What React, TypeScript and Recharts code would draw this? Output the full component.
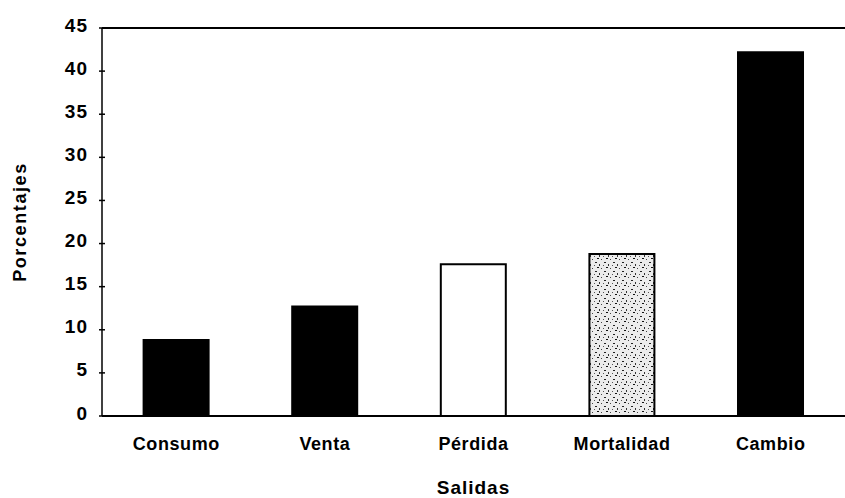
import { BarChart, Bar, XAxis, YAxis, Cell, ReferenceLine, Label } from 'recharts';

const categories = ['Consumo', 'Venta', 'Pérdida', 'Mortalidad', 'Cambio'];
const percentages = [8.8, 12.7, 17.6, 18.8, 42.2];
const yTicks = [0, 5, 10, 15, 20, 25, 30, 35, 40, 45];

const data = categories.map((name, i) => ({ name, value: percentages[i] }));

const FONT = '"Liberation Sans", Arial, sans-serif';
const barFills = ['#000', '#000', '#fff', 'url(#speckle)', '#000'];

function YTick(props: any) {
  const { x, y, payload } = props;
  const axisX = x + 14;
  return (
    <g>
      <line x1={axisX - 3} x2={axisX + 3} y1={y} y2={y} stroke="#000" strokeWidth={1.5} />
      <text x={x} y={y - 3} textAnchor="end" dominantBaseline="central" fontFamily={FONT} fontSize={19} fontWeight="bold" letterSpacing={1} fill="#000">
        {payload.value}
      </text>
    </g>
  );
}

function XTick(props: any) {
  const { x, y, payload } = props;
  return (
    <text x={x} y={y} dy="0.71em" textAnchor="middle" fontFamily={FONT} fontSize={18} fontWeight="bold" letterSpacing={0.6} fill="#000">
      {payload.value}
    </text>
  );
}

function YLabel(props: any) {
  const vb = props.viewBox;
  const cx = 20;
  const cy = vb.y + vb.height / 2;
  return (
    <text x={cx} y={cy} transform={`rotate(-90 ${cx} ${cy})`} textAnchor="middle" dominantBaseline="central" fontFamily={FONT} fontSize={18} fontWeight="bold" letterSpacing={1.6} fill="#000">
      Porcentajes
    </text>
  );
}

export default function App() {
  return (
    <div style={{ position: 'absolute', left: 0, top: 0, width: 845, height: 498, background: '#fff' }}>
      <BarChart width={845} height={498} data={data} margin={{ top: 28, right: 0, bottom: 0, left: 0 }} barCategoryGap="28%">
        <defs>
          <pattern id="speckle" width="9" height="9" patternUnits="userSpaceOnUse">
            <rect width="9" height="9" fill="#ececec" />
            <rect x="1" y="1" width="2" height="1" fill="#222" />
            <rect x="5" y="3" width="1" height="2" fill="#333" />
            <rect x="3" y="6" width="2" height="1" fill="#111" />
            <rect x="7" y="7" width="1" height="1" fill="#444" />
            <rect x="0" y="4" width="1" height="1" fill="#555" />
          </pattern>
        </defs>
        <XAxis
          dataKey="name"
          height={82}
          axisLine={{ stroke: '#000', strokeWidth: 2 }}
          tickLine={false}
          tickSize={0}
          tickMargin={21}
          tick={<XTick />}
          interval={0}
        >
          <Label value="Salidas" position="insideBottom" offset={4} fontFamily={FONT} fontSize={19} fontWeight="bold" fill="#000" letterSpacing={1} />
        </XAxis>
        <YAxis
          width={102}
          domain={[0, 45]}
          ticks={yTicks}
          interval={0}
          axisLine={{ stroke: '#000', strokeWidth: 1.5 }}
          tickLine={false}
          tickSize={0}
          tickMargin={14}
          tick={<YTick />}
        >
          <Label content={<YLabel />} />
        </YAxis>
        <ReferenceLine y={45} stroke="#000" strokeWidth={2} />
        <Bar dataKey="value" isAnimationActive={false} stroke="#000" strokeWidth={2}>
          {data.map((d, i) => (
            <Cell key={d.name} fill={barFills[i]} />
          ))}
        </Bar>
      </BarChart>
    </div>
  );
}
